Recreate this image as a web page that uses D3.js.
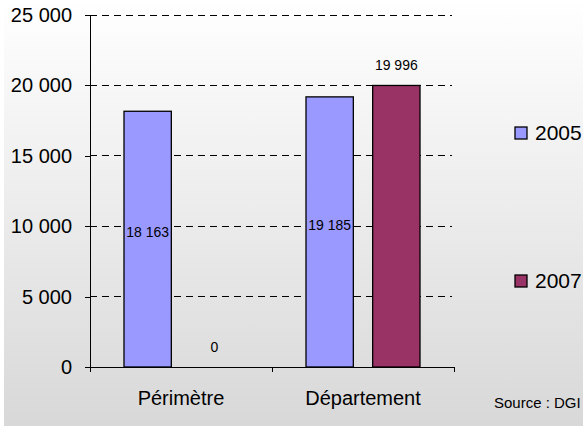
<!DOCTYPE html>
<html>
<head>
<meta charset="utf-8">
<script src="https://cdn.jsdelivr.net/npm/d3@7"></script>
<style>
  body { margin: 0; background: #fff; }
  svg text { font-family: "Liberation Sans", Arial, sans-serif !important; }
</style>
</head>
<body>
<script>
let categories = ['Périmètre', 'Département']
let years = ['2005', '2007']
let values2005 = [18163, 19185]
let values2007 = [0, 19996]
let yTicks = [0, 5000, 10000, 15000, 20000, 25000]

const W = 583, H = 426
const COLORS = {'2005': '#9999ff', '2007': '#993366'}

let svg = d3.select('body').append('svg')
    .attr('width', W)
    .attr('height', H)
    .attr('font-family', '"Liberation Sans", Arial, sans-serif')

let defs = svg.append('defs')
let grad = defs.append('linearGradient')
    .attr('id', 'bg').attr('x1', 0).attr('y1', 0).attr('x2', 0).attr('y2', 1)
grad.append('stop').attr('offset', '0%').attr('stop-color', '#ffffff')
grad.append('stop').attr('offset', '100%').attr('stop-color', '#d8d8d8')

svg.append('rect')
    .attr('x', 4).attr('y', 0)
    .attr('width', W - 4).attr('height', H)
    .attr('fill', 'url(#bg)')

let y = d3.scaleLinear().domain([0, 25000]).range([367, 15])
let x = d3.scaleBand().domain(categories).range([90, 454])
let xs = d3.scaleBand().domain(years).range([34, 148]).paddingInner(0.29)

let fmt = (v) => d3.format(',')(v).replace(/,/g, ' ')

// grid
svg.selectAll('.grid')
    .data(yTicks.filter(d => d > 0))
    .join('line')
    .attr('x1', 90).attr('x2', 452)
    .attr('y1', d => y(d)).attr('y2', d => y(d))
    .attr('stroke', '#000').attr('stroke-width', 1)
    .attr('stroke-dasharray', '7,5')
    .attr('shape-rendering', 'crispEdges')

// y axis
let yAxis = svg.append('g')
    .attr('transform', 'translate(90,0)')
    .call(d3.axisLeft(y).tickValues(yTicks).tickSize(5).tickSizeOuter(0).tickFormat(fmt))
yAxis.attr('font-family', null)
yAxis.selectAll('text').attr('font-size', 20).attr('fill', '#000').attr('dx', -10)
yAxis.select('.domain').attr('shape-rendering', 'crispEdges')
yAxis.selectAll('.tick line').attr('shape-rendering', 'crispEdges')

// x axis
let xAxisG = svg.append('g').attr('transform', 'translate(0,367)')
xAxisG.append('line').attr('x1', 90).attr('x2', 454).attr('y1', 0).attr('y2', 0)
    .attr('stroke', '#000').attr('shape-rendering', 'crispEdges')
xAxisG.selectAll('.xt')
    .data([90, ...categories.map(c => x(c) + x.bandwidth())])
    .join('line')
    .attr('x1', d => d).attr('x2', d => d).attr('y1', 0).attr('y2', 5)
    .attr('stroke', '#000').attr('shape-rendering', 'crispEdges')
xAxisG.selectAll('.xl')
    .data(categories)
    .join('text')
    .attr('x', d => x(d) + x.bandwidth() / 2)
    .attr('y', 38)
    .attr('text-anchor', 'middle')
    .attr('font-size', 20)
    .text(d => d)

let series = [
    {year: '2005', vals: values2005},
    {year: '2007', vals: values2007}
]

series.forEach(s => {
    let data = categories.map((c, i) => ({cat: c, v: s.vals[i]}))
    svg.selectAll('.bar' + s.year)
        .data(data.filter(d => d.v > 0))
        .join('rect')
        .attr('x', d => x(d.cat) + xs(s.year))
        .attr('y', d => y(d.v))
        .attr('width', xs.bandwidth())
        .attr('height', d => y(0) - y(d.v))
        .attr('fill', COLORS[s.year])
        .attr('stroke', '#000')
        .attr('stroke-width', 1.3)

    svg.selectAll('.lab' + s.year)
        .data(data)
        .join('text')
        .attr('x', d => x(d.cat) + xs(s.year) + xs.bandwidth() / 2)
        .attr('y', d => s.year == '2005' ? y(d.v / 2) - 2 : y(d.v) - 15)
        .attr('text-anchor', 'middle')
        .attr('font-size', 14)
        .text(d => fmt(d.v))
})

// legend
let legend = svg.selectAll('.leg')
    .data(years)
    .join('g')
    .attr('transform', (d, i) => `translate(515,${i == 0 ? 127 : 275})`)
legend.append('rect')
    .attr('width', 12).attr('height', 12)
    .attr('fill', d => COLORS[d])
    .attr('stroke', '#000').attr('stroke-width', 1.3)
legend.append('text')
    .attr('x', 20).attr('y', 13)
    .attr('font-size', 21)
    .text(d => d)

svg.append('text')
    .attr('x', 494).attr('y', 408)
    .attr('font-size', 15)
    .text('Source : DGI')
</script>
</body>
</html>
